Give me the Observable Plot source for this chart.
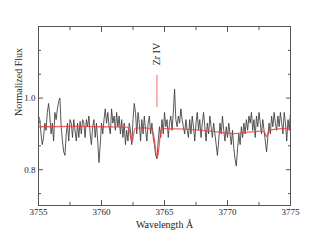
<!DOCTYPE html>
<html><head><meta charset="utf-8">
<script src="https://cdn.jsdelivr.net/npm/d3@7"></script>
<script src="https://cdn.jsdelivr.net/npm/@observablehq/plot@0.6"></script>
<style>
html,body{margin:0;padding:0;background:#fff;}
#chart svg{display:block;}
</style></head><body><div id="chart"></div>
<script>
// Observed spectrum, sampled every 0.1 Å from 3755.0 to 3775.0
const waveStart = 3755.0;
const waveStep = 0.1;
const observedFlux = [
0.95,0.94,0.90,0.87,0.89,0.93,0.91,0.96,0.985,0.95,
0.90,0.93,0.88,0.96,0.94,0.97,0.99,1.00,0.92,0.88,
0.85,0.84,0.90,0.93,0.88,0.94,0.93,0.89,0.94,0.91,
0.88,0.93,0.89,0.935,0.90,0.94,0.93,0.89,0.94,0.92,
0.95,0.90,0.87,0.92,0.94,0.89,0.93,0.88,0.82,0.87,
0.93,0.90,0.94,0.97,0.93,0.96,0.92,0.90,0.97,0.93,
0.95,0.91,0.96,0.92,0.95,0.90,0.94,0.89,0.93,0.87,
0.91,0.88,0.93,0.91,0.87,0.94,0.985,0.96,0.90,0.96,
0.93,0.88,0.94,0.90,0.95,0.91,0.88,0.93,0.95,0.90,
0.93,0.89,0.87,0.84,0.83,0.88,0.92,0.89,0.94,0.90,
0.96,0.92,0.94,0.89,0.93,0.95,0.91,0.96,1.025,0.94,
0.92,0.95,0.93,0.97,0.94,0.92,0.90,0.94,0.91,0.89,
0.94,0.90,0.95,0.92,0.88,0.93,0.96,0.91,0.94,0.89,
0.93,0.96,0.92,0.88,0.93,0.90,0.95,0.92,0.89,0.93,
0.90,0.87,0.84,0.88,0.93,0.90,0.95,0.91,0.88,0.92,
0.89,0.93,0.90,0.87,0.91,0.86,0.83,0.81,0.86,0.90,
0.87,0.92,0.89,0.93,0.90,0.94,0.91,0.95,0.93,0.96,
0.91,0.94,0.89,0.95,0.92,0.96,0.93,0.90,0.94,0.91,
0.88,0.85,0.89,0.93,0.90,0.95,0.92,0.96,0.93,0.91,
0.95,0.92,0.96,0.93,0.90,0.96,0.93,0.88,0.94,0.91,
0.96
];
// Synthetic model spectrum
const modelWave = [3755,3758,3760,3762.0,3762.2,3762.35,3762.45,3762.55,3762.7,3763.5,3764.0,3764.2,3764.35,3764.45,3764.55,3764.7,3764.85,3766,3768,3769.5,3770.5,3771.5,3772.8,3773.0,3773.1,3773.25,3773.5,3774.5,3775];
const modelFlux = [0.920,0.921,0.920,0.919,0.912,0.885,0.878,0.900,0.916,0.917,0.912,0.885,0.840,0.835,0.860,0.905,0.915,0.914,0.910,0.904,0.901,0.904,0.908,0.900,0.892,0.905,0.911,0.915,0.916];
// Line identification
const lineLabel = "Zr IV";
const lineWave = 3764.4;
const lineMarkerFlux = [0.976, 1.064];
const lineLabelFlux = 1.123;
// Axes
const xDomain = [3755, 3775];
const yDomain = [0.7, 1.2];
const xMajorTicks = [3755, 3760, 3765, 3770, 3775];
const xMinorTicks = [3757.5, 3762.5, 3767.5, 3772.5];
const yMajorTicks = [0.8, 1.0];
const yMinorTicks = [0.7333, 0.8667, 0.9333, 1.0667, 1.1333];
const xLabel = "Wavelength Å";
const yLabel = "Normalized Flux";

const observed = observedFlux.map((f, i) => ({w: waveStart + i * waveStep, f}));
const model = modelWave.map((w, i) => ({w, f: modelFlux[i]}));
const marker = lineMarkerFlux.map(f => ({w: lineWave, f}));

const font = "'Liberation Serif', 'Times New Roman', serif";
const axisColor = "#555";

const chart = Plot.plot({
  width: 330,
  height: 244,
  marginLeft: 38,
  marginRight: 40,
  marginTop: 26,
  marginBottom: 39,
  style: {fontFamily: font, fontSize: "9px", color: "#222", background: "#fff"},
  x: {domain: xDomain},
  y: {domain: yDomain},
  marks: [
    Plot.line(observed, {x: "w", y: "f", stroke: "#3a3a3a", strokeWidth: 0.85}),
    Plot.line(model, {x: "w", y: "f", stroke: "#f03c3c", strokeOpacity: 0.8, strokeWidth: 1.3, curve: "monotone-x"}),
    Plot.line(marker, {x: "w", y: "f", stroke: "#f06a6a", strokeWidth: 1}),
    Plot.text([lineLabel], {x: lineWave, y: lineLabelFlux, text: d => d, rotate: -90, fontSize: 10, fill: "#222"}),
    Plot.axisX({anchor: "bottom", ticks: xMajorTicks, tickSize: -5, tickPadding: 8, tickFormat: d => String(d), stroke: axisColor, label: null}),
    Plot.axisX({anchor: "bottom", ticks: xMinorTicks, tickSize: -3, tickFormat: () => "", stroke: axisColor, label: null}),
    Plot.axisX({anchor: "top", ticks: xMajorTicks, tickSize: -5, tickFormat: () => "", stroke: axisColor, label: null}),
    Plot.axisX({anchor: "top", ticks: xMinorTicks, tickSize: -3, tickFormat: () => "", stroke: axisColor, label: null}),
    Plot.axisY({anchor: "left", ticks: yMajorTicks, tickSize: -5, tickPadding: 8, tickFormat: d => d.toFixed(1), stroke: axisColor, label: null}),
    Plot.axisY({anchor: "left", ticks: yMinorTicks, tickSize: -3, tickFormat: () => "", stroke: axisColor, label: null}),
    Plot.axisY({anchor: "right", ticks: yMajorTicks, tickSize: -5, tickFormat: () => "", stroke: axisColor, label: null}),
    Plot.axisY({anchor: "right", ticks: yMinorTicks, tickSize: -3, tickFormat: () => "", stroke: axisColor, label: null}),
    Plot.text([xLabel], {frameAnchor: "bottom", dy: 19, lineAnchor: "middle", text: d => d, fontSize: 10, fill: "#222"}),
    Plot.text([yLabel], {frameAnchor: "left", dx: -20, rotate: -90, text: d => d, fontSize: 10, fill: "#222"}),
    Plot.frame({stroke: axisColor, strokeWidth: 1})
  ]
});
document.getElementById("chart").appendChild(chart);
</script>
</body></html>
